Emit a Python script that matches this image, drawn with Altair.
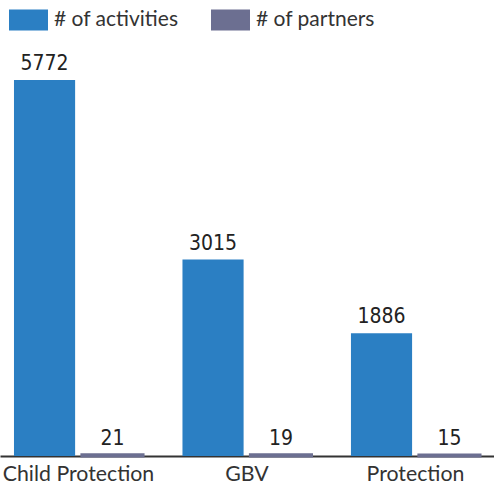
import altair as alt
import pandas as pd

categories = ["Child Protection", "GBV", "Protection"]
activities = [5772, 3015, 1886]
partners = [21, 19, 15]
series_names = ["# of activities", "# of partners"]
colors = ["#2b7fc3", "#6c6f91"]

rows = []
for c, a, p in zip(categories, activities, partners):
    rows.append({"cat": c, "series": series_names[0], "value": a})
    rows.append({"cat": c, "series": series_names[1], "value": p})
df = pd.DataFrame(rows)

x = alt.X("cat:N", sort=categories, title=None,
          scale=alt.Scale(paddingInner=0.234, paddingOuter=0.083),
          axis=alt.Axis(labelAngle=0, ticks=False, domainColor="#333333", domainWidth=2,
                        labelFont="Lato", labelFontSize=21.3, labelColor="#333333",
                        labelPadding=7))
xo = alt.XOffset("series:N", sort=series_names,
                 scale=alt.Scale(paddingInner=0.1, paddingOuter=0))
y = alt.Y("value:Q", scale=alt.Scale(domain=[0, 6386], nice=False), axis=None)
cscale = alt.Scale(domain=series_names, range=colors)

base = alt.Chart(df)
bars = base.mark_bar().encode(
    x=x, xOffset=xo, y=y,
    color=alt.Color("series:N", sort=series_names, scale=cscale,
                    legend=alt.Legend(title=None, orient="none", direction="horizontal",
                                      legendX=9, legendY=-40,
                                      symbolType="M-1,-0.54L1,-0.54L1,0.54L-1,0.54Z",
                                      symbolSize=1521, symbolStrokeWidth=0,
                                      symbolOpacity=1,
                                      labelFont="Lato", labelFontSize=21, labelColor="#333333",
                                      labelOffset=6, columnPadding=32, padding=0,
                                      symbolOffset=0)),
    stroke=alt.Stroke("series:N", sort=series_names, scale=cscale, legend=None),
    strokeWidth=alt.condition(alt.datum.series == series_names[1], alt.value(3), alt.value(0)),
)
labels = base.mark_text(dy=-6, baseline="bottom",
                        font="DejaVu Sans Condensed, Roboto Condensed, Roboto",
                        fontSize=21, color="#222222").encode(
    x=x, xOffset=xo, y=y, text="value:Q")

chart = alt.layer(bars, labels).properties(
    width=494, height=416,
    autosize=alt.AutoSizeParams(type="none"),
    padding={"top": 40, "left": 0, "right": 0, "bottom": 30},
).configure_view(stroke=None)

chart.save("out.html", embed_options={"renderer": "svg", "actions": False})
